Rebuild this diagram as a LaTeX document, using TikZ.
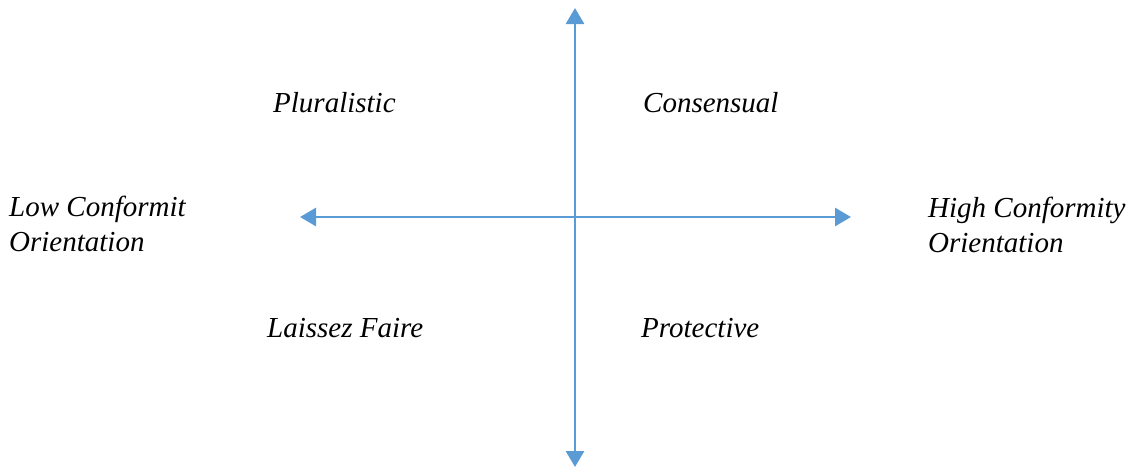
\documentclass[tikz,border=0pt]{standalone}
\usepackage{fontspec}
\setmainfont{Liberation Serif}
\usetikzlibrary{arrows.meta}
\definecolor{axisblue}{HTML}{5B9BD5}
\begin{document}
\begin{tikzpicture}[x=1pt,y=-1pt,
  lbl/.style={anchor=base west,inner sep=0pt,font=\fontsize{29}{35}\selectfont\itshape,align=left},
  axis/.style={draw=axisblue,line width=2.8pt,-{Triangle[length=16pt,width=18pt]}}]
\useasboundingbox (0,0) rectangle (1133,471);
\coordinate (top) at (575,8);
\coordinate (bottom) at (575,467);
\coordinate (left) at (300,217);
\coordinate (right) at (851,217);
\coordinate (center) at (575,217);
\draw[axis] (center) -- (top);
\draw[axis] (center) -- (bottom);
\draw[axis] (center) -- (left);
\draw[axis] (center) -- (right);
\node[lbl] (plur) at (273,112) {Pluralistic};
\node[lbl] (cons) at (643,112) {Consensual};
\node[lbl] (laiss) at (267,337) {Laissez Faire};
\node[lbl] (prot) at (641,337) {Protective};
\node[lbl] (low) at (9,216) {Low Conformit};
\node[lbl] (lowo) at (9,251) {Orientation};
\node[lbl] (high) at (928,217) {High Conformity};
\node[lbl] (higho) at (928,252) {Orientation};
\end{tikzpicture}
\end{document}
